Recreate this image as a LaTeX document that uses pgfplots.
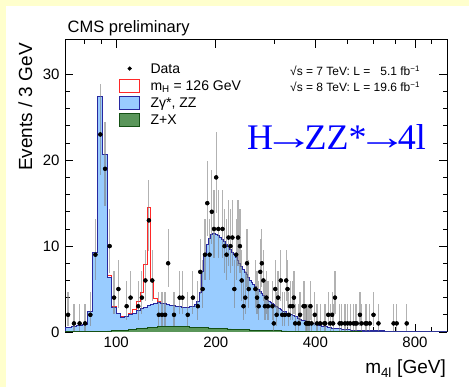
\documentclass[border=0pt]{standalone}
\usepackage{fontspec}
\setmainfont{Liberation Sans}
\newfontfamily\serif{Liberation Serif}
\usepackage{graphicx}
\usepackage{pgfplots}
\usepackage{pgfplotstable}
\pgfplotsset{compat=1.18}

\definecolor{bgyellow}{RGB}{255,255,205}
\definecolor{zzfill}{RGB}{153,204,255}
\definecolor{zzline}{RGB}{40,40,160}
\definecolor{zxfill}{RGB}{90,150,90}
\definecolor{zxline}{RGB}{20,80,20}
\definecolor{sigline}{RGB}{255,40,40}
\definecolor{hblue}{RGB}{0,0,255}

% a long thin arrow for the channel label
\newcommand{\longarr}{\kern-9.5pt\scalebox{1.4}[1]{→}\kern-9.5pt}

% Expected yields per bin: lower bin edge, Z+X, total background (Z+X + ZZ), mH=126 signal
\pgfplotstableread{
lo zx bg sig
70 0.05 0.50 0
73 0.05 0.60 0
76 0.06 0.70 0
79 0.07 0.90 0
82 0.08 2.40 0
85 0.09 9.30 0
88 0.10 27.40 0
91 0.11 20.70 0
94 0.12 6.30 0.30
97 0.13 2.90 0.10
100 0.15 2.10 0.10
103 0.18 1.70 0.05
106 0.22 1.80 0.05
109 0.27 2.00 0.10
112 0.32 2.20 0.40
115 0.37 2.50 1.00
118 0.42 2.70 1.90
121 0.47 2.90 5.00
124 0.51 3.10 11.40
127 0.55 3.20 2.80
130 0.58 3.30 0.60
133 0.61 3.40 0.15
136 0.63 3.30 0.05
139 0.64 3.30 0
142 0.65 3.20 0
145 0.65 3.10 0
148 0.65 3.10 0
151 0.64 3.00 0
154 0.63 3.00 0
157 0.62 2.90 0
160 0.61 2.90 0
163 0.60 2.90 0
166 0.58 3.00 0
169 0.57 3.00 0
172 0.56 3.20 0
175 0.54 3.60 0
178 0.53 4.60 0
181 0.52 7.00 0
184 0.50 9.00 0
187 0.49 10.20 0
190 0.47 10.90 0
193 0.46 11.30 0
196 0.45 11.50 0
199 0.43 11.40 0
202 0.42 11.20 0
205 0.41 11.00 0
208 0.40 10.80 0
211 0.38 10.50 0
214 0.37 10.20 0
217 0.36 9.95 0
220 0.35 9.65 0
223 0.34 9.30 0
226 0.33 9.00 0
229 0.32 8.65 0
232 0.31 8.30 0
235 0.30 7.95 0
238 0.29 7.60 0
241 0.28 7.25 0
244 0.27 6.95 0
247 0.26 6.65 0
250 0.25 6.35 0
253 0.24 6.05 0
256 0.23 5.80 0
259 0.22 5.57 0
262 0.22 5.34 0
265 0.21 5.12 0
268 0.20 4.90 0
271 0.20 4.69 0
274 0.19 4.48 0
277 0.18 4.28 0
280 0.18 4.08 0
283 0.17 3.89 0
286 0.17 3.70 0
289 0.16 3.55 0
292 0.16 3.41 0
295 0.15 3.28 0
298 0.15 3.16 0
301 0.14 3.04 0
304 0.14 2.93 0
307 0.13 2.82 0
310 0.13 2.72 0
313 0.13 2.62 0
316 0.12 2.53 0
319 0.12 2.44 0
322 0.12 2.33 0
328 0.11 2.17 0
334 0.10 2.02 0
340 0.10 1.88 0
346 0.09 1.75 0
352 0.09 1.62 0
358 0.08 1.50 0
364 0.08 1.39 0
370 0.07 1.29 0
376 0.07 1.19 0
382 0.06 1.10 0
388 0.06 1.02 0
394 0.06 0.95 0
400 0.05 0.88 0
406 0.05 0.81 0
412 0.05 0.75 0
418 0.04 0.69 0
424 0.04 0.64 0
430 0.04 0.59 0
436 0.04 0.54 0
442 0.03 0.50 0
448 0.03 0.46 0
454 0.03 0.43 0
460 0.03 0.40 0
469 0.03 0.36 0
481 0.02 0.31 0
490 0.02 0.28 0
499 0.02 0.25 0
511 0.02 0.22 0
529 0.02 0.19 0
550 0.01 0.17 0
571 0.01 0.15 0
601 0.01 0.13 0
649 0.01 0.11 0
700 0.01 0.09 0
751 0.01 0.08 0
799 0.01 0.07 0
850 0.01 0.06 0
901 0.01 0.05 0
949 0.01 0.05 0
1000 0.01 0.05 0
}\hist

% Observed events: bin centre, count, upper and lower Poisson errors
\pgfplotstableread{
m n ep em
71.5 2 2.64 1.29
74.5 1 2.30 0.83
77.5 1 2.30 0.83
80.5 1 2.30 0.83
83.5 2 2.64 1.29
86.5 9 4.11 2.94
89.5 23 5.87 4.75
92.5 19 5.44 4.31
95.5 10 4.27 3.11
98.5 4 3.16 1.91
101.5 5 3.38 2.16
107.5 3 2.92 1.63
110.5 4 3.16 1.91
116.5 3 2.92 1.63
119.5 4 3.16 1.91
122.5 6 3.58 2.38
125.5 13 4.70 3.57
128.5 6 3.58 2.38
134.5 2 2.64 1.29
137.5 2 2.64 1.29
140.5 2 2.64 1.29
143.5 8 3.95 2.77
149.5 2 2.64 1.29
155.5 4 3.16 1.91
158.5 4 3.16 1.91
164.5 2 2.64 1.29
170.5 4 3.16 1.91
176.5 3 2.92 1.63
179.5 7 3.77 2.58
182.5 5 3.38 2.16
185.5 9 4.11 2.94
188.5 15 4.96 3.85
191.5 9 4.11 2.94
194.5 14 4.83 3.72
197.5 12 4.56 3.43
200.5 18 5.33 4.19
203.5 12 4.56 3.43
209.5 12 4.56 3.43
212.5 10 4.27 3.11
215.5 9 4.11 2.94
218.5 11 4.42 3.27
221.5 10 4.27 3.11
224.5 11 4.42 3.27
227.5 5 3.38 2.16
230.5 9 4.11 2.94
233.5 11 4.42 3.27
236.5 10 4.27 3.11
239.5 6 3.58 2.38
242.5 3 2.92 1.63
245.5 4 3.16 1.91
248.5 8 3.95 2.77
251.5 5 3.38 2.16
263.5 5 3.38 2.16
266.5 4 3.16 1.91
269.5 3 2.92 1.63
272.5 7 3.77 2.58
275.5 8 3.95 2.77
278.5 6 3.58 2.38
281.5 3 2.92 1.63
284.5 4 3.16 1.91
287.5 3 2.92 1.63
296.5 3 2.92 1.63
299.5 1 2.30 0.83
302.5 5 3.38 2.16
305.5 2 2.64 1.29
308.5 4 3.16 1.91
314.5 6 3.58 2.38
317.5 2 2.64 1.29
323.5 2 2.64 1.29
326.5 6 3.58 2.38
329.5 5 3.38 2.16
332.5 2 2.64 1.29
335.5 3 2.92 1.63
341.5 3 2.92 1.63
344.5 4 3.16 1.91
347.5 1 2.30 0.83
356.5 1 2.30 0.83
359.5 2 2.64 1.29
368.5 3 2.92 1.63
371.5 3 2.92 1.63
374.5 1 2.30 0.83
377.5 1 2.30 0.83
380.5 1 2.30 0.83
383.5 1 2.30 0.83
386.5 3 2.92 1.63
389.5 1 2.30 0.83
398.5 2 2.64 1.29
404.5 1 2.30 0.83
413.5 1 2.30 0.83
425.5 1 2.30 0.83
428.5 1 2.30 0.83
437.5 2 2.64 1.29
443.5 1 2.30 0.83
449.5 2 2.64 1.29
452.5 1 2.30 0.83
458.5 4 3.16 1.91
473.5 1 2.30 0.83
479.5 1 2.30 0.83
491.5 1 2.30 0.83
500.5 1 2.30 0.83
509.5 1 2.30 0.83
521.5 1 2.30 0.83
527.5 1 2.30 0.83
533.5 1 2.30 0.83
545.5 2 2.64 1.29
551.5 1 2.30 0.83
566.5 1 2.30 0.83
572.5 1 2.30 0.83
584.5 1 2.30 0.83
599.5 2 2.64 1.29
620.5 1 2.30 0.83
689.5 1 2.30 0.83
704.5 1 2.30 0.83
755.5 1 2.30 0.83
}\obs

\begin{document}
\begin{tikzpicture}[x=1pt,y=1pt]
\path[use as bounding box] (0pt,0pt) rectangle (469pt,387pt);
\fill[bgyellow] (0pt,0pt) rectangle (469pt,387pt);
\fill[white] (6pt,0pt) rectangle (469pt,381pt);

\begin{axis}[
  at={(65pt,55pt)}, anchor=south west,
  scale only axis, width=382pt, height=292pt,
  xmode=log, xmin=70, xmax=1000, ymin=0, ymax=34,
  xtick={100,200,400,800}, xticklabels={100,200,400,800},
  minor xtick={80,90,300,500,600,700,900},
  ytick={0,10,20,30}, yticklabels={0,10,20,30},
  minor y tick num=4,
  tick align=inside, xtick pos=both, ytick pos=both,
  major tick length=8pt, minor tick length=4.5pt,
  every tick/.style={black, line width=0.8pt},
  axis line style={line width=1pt},
  ticklabel style={font=\fontsize{15}{18}\selectfont},
  xticklabel style={yshift=-1.5pt},
  yticklabel style={xshift=-2pt},
  legend cell align=left,
  legend style={at={(0.1414,0.932)}, anchor=north west, draw=none, fill=none,
    inner sep=0pt, font=\fontsize{14}{16}\selectfont,
    nodes={inner sep=1.5pt, text height=12pt, text depth=2pt},
    column sep=9pt, row sep=0pt},
]
% signal on top of the background (outline only)
\addplot[forget plot, const plot, draw=sigline, line width=1pt]
  table[x=lo, y expr=\thisrow{bg}+\thisrow{sig}] {\hist};
% ZZ + Z+X background
\addplot[forget plot, const plot, fill=zzfill, draw=zzline, line width=1pt]
  table[x=lo, y=bg] {\hist} \closedcycle;
% reducible Z+X background
\addplot[forget plot, const plot, fill=zxfill, draw=zxline, line width=0.8pt]
  table[x=lo, y=zx] {\hist} \closedcycle;
% data: Poisson error bars first, then the points on top
\addplot[forget plot, only marks, mark=none,
  error bars/.cd, y dir=both, y explicit, error mark=none,
  error bar style={line width=1.2pt, black!50, opacity=0.6}]
  table[x=m, y=n, y error plus=ep, y error minus=em] {\obs};
\addplot[forget plot, only marks, mark=*, mark size=1.8pt, black]
  table[x=m, y=n] {\obs};

\addlegendimage{only marks, mark=*, mark size=1.9pt, black}
\addlegendentry{Data}
\addlegendimage{legend image code/.code={\draw[sigline, fill=white, line width=0.8pt] (-1.5pt,-6.5pt) rectangle (18.5pt,6.5pt);}}
\addlegendentry{m\textsubscript{H} = 126 GeV}
\addlegendimage{legend image code/.code={\draw[zzline, fill=zzfill, line width=0.8pt] (-1.5pt,-6.5pt) rectangle (18.5pt,6.5pt);}}
\addlegendentry{Zγ*, ZZ}
\addlegendimage{legend image code/.code={\draw[zxline, fill=zxfill, line width=0.8pt] (-1.5pt,-6.5pt) rectangle (18.5pt,6.5pt);}}
\addlegendentry{Z+X}
\end{axis}

\node[anchor=base west, inner sep=0, font=\fontsize{16.5}{19}\selectfont] at (67.5pt,354pt) {CMS preliminary};
\node[rotate=90, anchor=base east, inner sep=0, font=\fontsize{19}{22}\selectfont] at (32pt,344pt) {Events / 3 GeV};
\node[anchor=base east, inner sep=0, font=\fontsize{19}{22}\selectfont] at (446pt,13pt) {m\textsubscript{4l} [GeV]};
\node[anchor=base west, inner sep=0, font=\fontsize{12}{13}\selectfont] at (290pt,311pt) {√s = 7 TeV: L = \phantom{1}5.1 fb\textsuperscript{−1}};
\node[anchor=base west, inner sep=0, font=\fontsize{12}{13}\selectfont] at (290pt,295pt) {√s = 8 TeV: L = 19.6 fb\textsuperscript{−1}};
\node[anchor=base west, inner sep=0, text=hblue, font=\serif\fontsize{36}{40}\selectfont] at (247pt,237pt) {H\longarr ZZ*\longarr 4l};
\end{tikzpicture}
\end{document}
